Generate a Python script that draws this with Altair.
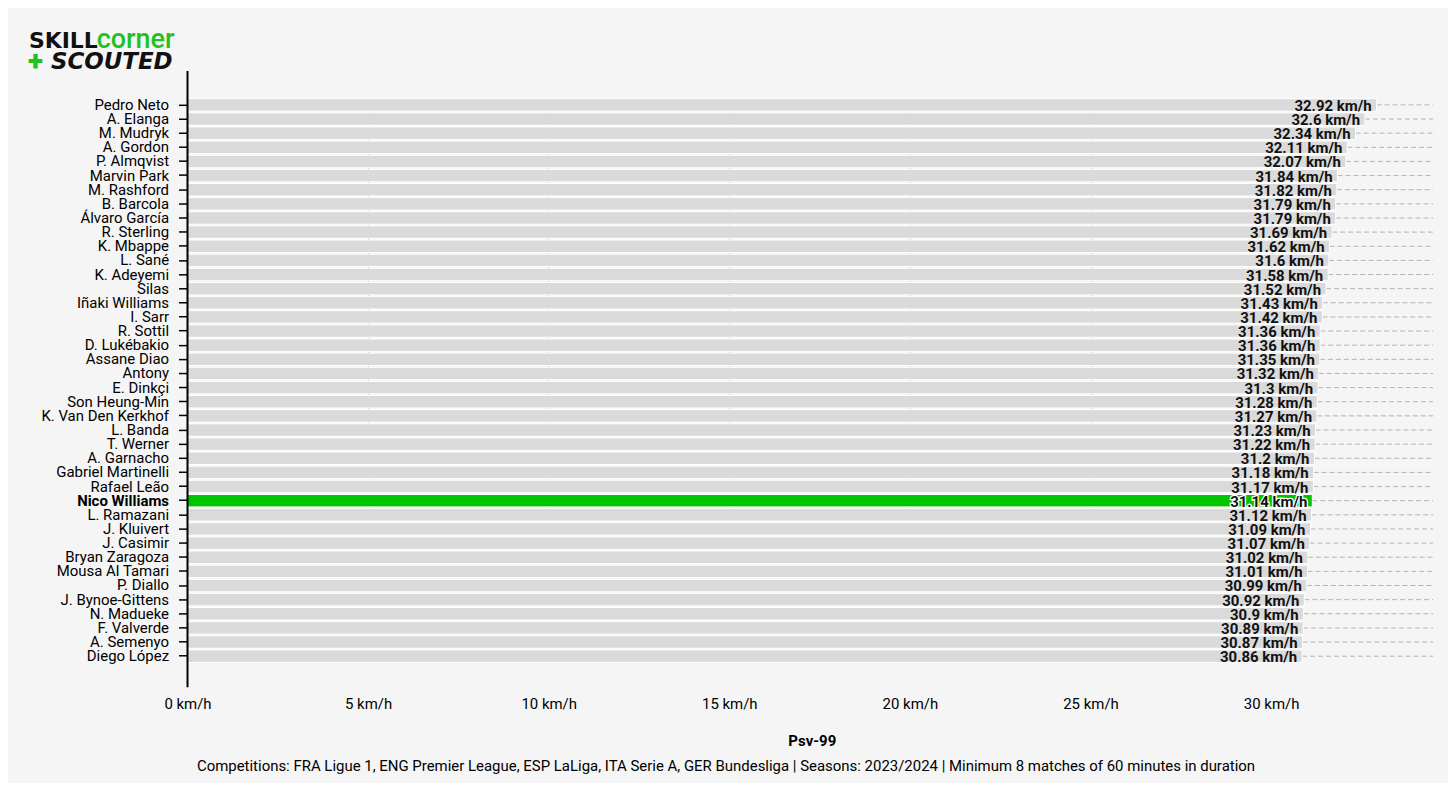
import altair as alt
import pandas as pd

players = ["Pedro Neto", "A. Elanga", "M. Mudryk", "A. Gordon", "P. Almqvist", "Marvin Park",
           "M. Rashford", "B. Barcola", "Álvaro García", "R. Sterling", "K. Mbappe", "L. Sané",
           "K. Adeyemi", "Silas", "Iñaki Williams", "I. Sarr", "R. Sottil", "D. Lukébakio",
           "Assane Diao", "Antony", "E. Dinkçi", "Son Heung-Min", "K. Van Den Kerkhof", "L. Banda",
           "T. Werner", "A. Garnacho", "Gabriel Martinelli", "Rafael Leão", "Nico Williams",
           "L. Ramazani", "J. Kluivert", "J. Casimir", "Bryan Zaragoza", "Mousa Al Tamari",
           "P. Diallo", "J. Bynoe-Gittens", "N. Madueke", "F. Valverde", "A. Semenyo", "Diego López"]
psv99 = [32.92, 32.6, 32.34, 32.11, 32.07, 31.84, 31.82, 31.79, 31.79, 31.69, 31.62, 31.6,
         31.58, 31.52, 31.43, 31.42, 31.36, 31.36, 31.35, 31.32, 31.3, 31.28, 31.27, 31.23,
         31.22, 31.2, 31.18, 31.17, 31.14, 31.12, 31.09, 31.07, 31.02, 31.01, 30.99, 30.92,
         30.9, 30.89, 30.87, 30.86]
highlight = "Nico Williams"
x_ticks = [0, 5, 10, 15, 20, 25, 30]
footer = ("Competitions: FRA Ligue 1, ENG Premier League, ESP LaLiga, ITA Serie A, GER Bundesliga"
          " | Seasons: 2023/2024 | Minimum 8 matches of 60 minutes in duration")

df = pd.DataFrame({"player": players, "psv": psv99})
df["label"] = df["psv"].map(lambda v: f"{v:g} km/h")
df["hl"] = df["player"] == highlight

W, H = 1252, 618
FONT = "Roboto"
FS = 15
xmax = max(psv99) * 1.05

xscale = alt.Scale(domain=[0, xmax], nice=False, zero=True)
yscale = alt.Scale(domain=players, range=[27, 594], paddingInner=0.12, paddingOuter=0.06)

base = alt.Chart(df)

rules = base.mark_rule(color="#b4b4b4", strokeDash=[5, 3], strokeWidth=1).encode(
    x=alt.X("psv:Q", scale=xscale),
    x2=alt.value(W - 3),
    y=alt.Y("player:N", scale=yscale, bandPosition=0.5),
)

bars = base.mark_bar(cornerRadius=0, stroke="#ffffff", strokeWidth=1).encode(
    x=alt.X("psv:Q", scale=xscale,
            axis=alt.Axis(values=x_ticks, labelExpr="datum.value + ' km/h'", title="Psv-99",
                          titleFontWeight="bold", titleFontSize=FS, titleFont=FONT, titlePadding=22,
                          labelFont=FONT, labelFontSize=FS, labelColor="#000", titleColor="#000",
                          labelFlush=False, labelPadding=9, domain=False, ticks=False,
                          grid=True, gridColor="#b8b8b8", gridDash=[4, 3], gridWidth=1)),
    y=alt.Y("player:N", scale=yscale, sort=players,
            axis=alt.Axis(title=None, labelFont=FONT, labelFontSize=FS, labelColor="#000",
                          labelFontWeight={"expr": f"datum.value == '{highlight}' ? 'bold' : 'normal'"},
                          domain=False, tickColor="#000", tickSize=9,
                          tickWidth=1.5, labelPadding=10, grid=False)),
    color=alt.condition(alt.datum.hl, alt.value("#00c400"), alt.value("#dadada")),
)

yline = alt.Chart(pd.DataFrame({"a": [0]})).mark_rule(color="#000", strokeWidth=2).encode(
    x=alt.value(0), y=alt.value(0), y2=alt.value(H))

labels = base.transform_filter(~alt.datum.hl).mark_text(
    align="right", baseline="middle", dx=-5, dy=1, font=FONT, fontSize=FS, fontWeight="bold", color="#111"
).encode(x=alt.X("psv:Q", scale=xscale), y=alt.Y("player:N", scale=yscale), text="label:N")

hl_halo = base.transform_filter(alt.datum.hl).mark_text(
    align="right", baseline="middle", dx=-5, dy=1, font=FONT, fontSize=FS, fontWeight="bold",
    color="#111", stroke="white", strokeWidth=2.5
).encode(x=alt.X("psv:Q", scale=xscale), y=alt.Y("player:N", scale=yscale), text="label:N")

hl_text = base.transform_filter(alt.datum.hl).mark_text(
    align="right", baseline="middle", dx=-5, dy=1, font=FONT, fontSize=FS, fontWeight="bold", color="#111"
).encode(x=alt.X("psv:Q", scale=xscale), y=alt.Y("player:N", scale=yscale), text="label:N")

one = pd.DataFrame({"a": [0]})
ob = alt.Chart(one)

def txt(s, x, y, size, color, weight="bold", italic=False, align="left", font=FONT):
    return ob.mark_text(text=s, align=align, baseline="alphabetic", font=font, fontSize=size,
                        fontWeight=weight, fontStyle="italic" if italic else "normal",
                        color=color).encode(x=alt.value(x), y=alt.value(y))

logo = (txt("SKILL", -159, -23, 22, "#111", weight="bold", font="DejaVu Sans")
        + txt("corner", -91, -23, 27, "#22c21e", weight=500)
        + txt("+", -160, -1, 28, "#22c21e", weight=900)
        + txt("SCOUTED", -137, -2, 23, "#111", weight="bold", italic=True, font="DejaVu Sans"))

foot = txt(footer, 540, 702, FS, "#000", weight="normal", align="center")

chart = alt.layer(rules, bars, yline, labels, hl_halo, hl_text, logo, foot).properties(
    width=W, height=H,
    background="#f5f5f5",
    padding={"left": 180, "top": 62, "right": 12, "bottom": 95},
    autosize=alt.AutoSizeParams(type="none"),
).configure_view(stroke=None)

chart.save("out.html", embed_options={"renderer": "svg", "actions": False})
